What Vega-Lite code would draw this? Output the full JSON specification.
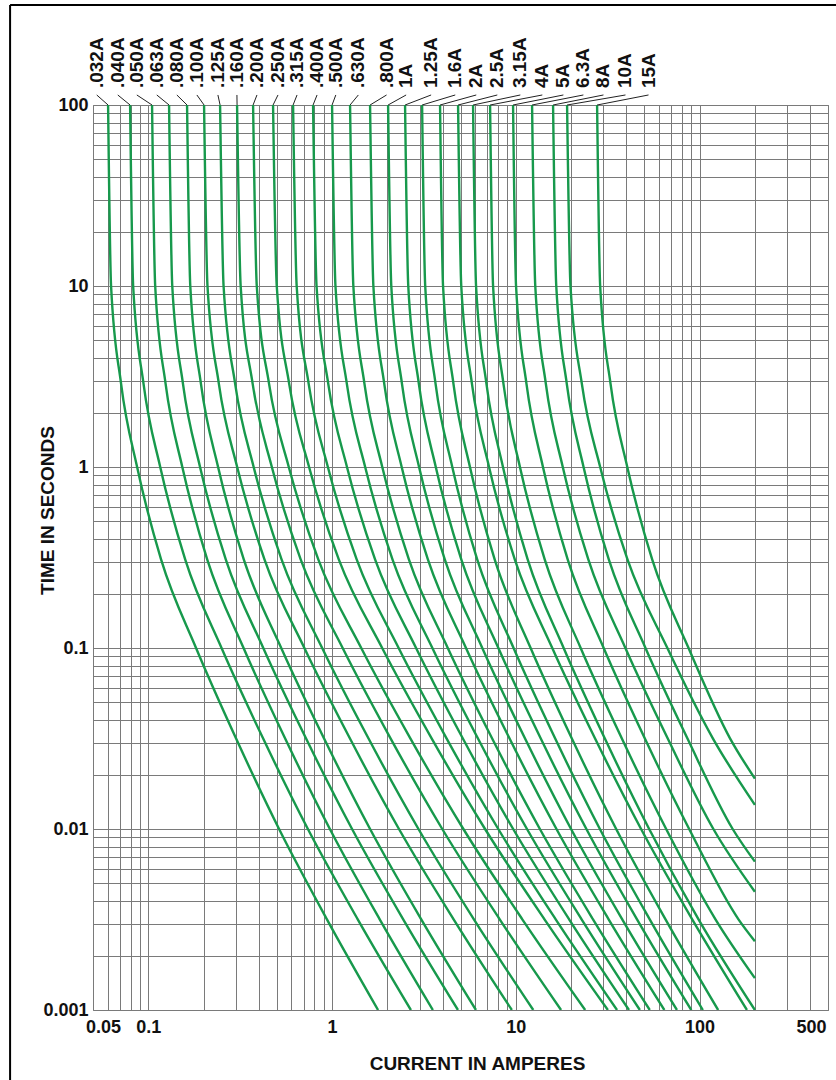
{
  "$schema": "https://vega.github.io/schema/vega-lite/v6.json",
  "autosize": {"type": "none"},
  "width": 735,
  "height": 905,
  "padding": {"left": 93, "top": 105, "right": 8, "bottom": 70},
  "background": "white",
  "config": {"view": {"stroke": "#7a7a7a", "strokeWidth": 1}},
  "datasets": {
    "curves": [
      {"fuse": ".032A", "current": 0.0604, "time": 100}, {"fuse": ".032A", "current": 0.0627, "time": 10}, {"fuse": ".032A", "current": 0.0711, "time": 2.88}, {"fuse": ".032A", "current": 0.0869, "time": 1}, {"fuse": ".032A", "current": 0.1173, "time": 0.309}, {"fuse": ".032A", "current": 0.1819, "time": 0.1}, {"fuse": ".032A", "current": 0.3004, "time": 0.0316}, {"fuse": ".032A", "current": 0.5147, "time": 0.01}, {"fuse": ".032A", "current": 0.9393, "time": 0.00316}, {"fuse": ".032A", "current": 1.78, "time": 0.001},
      {"fuse": ".040A", "current": 0.0796, "time": 100}, {"fuse": ".040A", "current": 0.0827, "time": 10}, {"fuse": ".040A", "current": 0.0942, "time": 2.88}, {"fuse": ".040A", "current": 0.1161, "time": 1}, {"fuse": ".040A", "current": 0.1587, "time": 0.309}, {"fuse": ".040A", "current": 0.2504, "time": 0.1}, {"fuse": ".040A", "current": 0.4217, "time": 0.0316}, {"fuse": ".040A", "current": 0.7385, "time": 0.01}, {"fuse": ".040A", "current": 1.382, "time": 0.00316}, {"fuse": ".040A", "current": 2.685, "time": 0.001},
      {"fuse": ".050A", "current": 0.1048, "time": 100}, {"fuse": ".050A", "current": 0.109, "time": 10}, {"fuse": ".050A", "current": 0.1242, "time": 2.88}, {"fuse": ".050A", "current": 0.1531, "time": 1}, {"fuse": ".050A", "current": 0.2091, "time": 0.309}, {"fuse": ".050A", "current": 0.3299, "time": 0.1}, {"fuse": ".050A", "current": 0.5556, "time": 0.0316}, {"fuse": ".050A", "current": 0.9728, "time": 0.01}, {"fuse": ".050A", "current": 1.82, "time": 0.00316}, {"fuse": ".050A", "current": 3.537, "time": 0.001},
      {"fuse": ".063A", "current": 0.1297, "time": 100}, {"fuse": ".063A", "current": 0.135, "time": 10}, {"fuse": ".063A", "current": 0.1544, "time": 2.88}, {"fuse": ".063A", "current": 0.1912, "time": 1}, {"fuse": ".063A", "current": 0.2639, "time": 0.309}, {"fuse": ".063A", "current": 0.4223, "time": 0.1}, {"fuse": ".063A", "current": 0.722, "time": 0.0316}, {"fuse": ".063A", "current": 1.2847, "time": 0.01}, {"fuse": ".063A", "current": 2.443, "time": 0.00316}, {"fuse": ".063A", "current": 4.844, "time": 0.001},
      {"fuse": ".080A", "current": 0.1625, "time": 100}, {"fuse": ".080A", "current": 0.1692, "time": 10}, {"fuse": ".080A", "current": 0.1934, "time": 2.88}, {"fuse": ".080A", "current": 0.2397, "time": 1}, {"fuse": ".080A", "current": 0.3307, "time": 0.309}, {"fuse": ".080A", "current": 0.5289, "time": 0.1}, {"fuse": ".080A", "current": 0.9046, "time": 0.0316}, {"fuse": ".080A", "current": 1.61, "time": 0.01}, {"fuse": ".080A", "current": 3.062, "time": 0.00316}, {"fuse": ".080A", "current": 6.068, "time": 0.001},
      {"fuse": ".100A", "current": 0.2011, "time": 100}, {"fuse": ".100A", "current": 0.2099, "time": 10}, {"fuse": ".100A", "current": 0.2421, "time": 2.88}, {"fuse": ".100A", "current": 0.3045, "time": 1}, {"fuse": ".100A", "current": 0.4286, "time": 0.309}, {"fuse": ".100A", "current": 0.7068, "time": 0.1}, {"fuse": ".100A", "current": 1.2515, "time": 0.0316}, {"fuse": ".100A", "current": 2.3123, "time": 0.01}, {"fuse": ".100A", "current": 4.596, "time": 0.00316}, {"fuse": ".100A", "current": 9.517, "time": 0.001},
      {"fuse": ".125A", "current": 0.2458, "time": 100}, {"fuse": ".125A", "current": 0.2568, "time": 10}, {"fuse": ".125A", "current": 0.2969, "time": 2.88}, {"fuse": ".125A", "current": 0.3744, "time": 1}, {"fuse": ".125A", "current": 0.531, "time": 0.309}, {"fuse": ".125A", "current": 0.8834, "time": 0.1}, {"fuse": ".125A", "current": 1.5796, "time": 0.0316}, {"fuse": ".125A", "current": 2.9526, "time": 0.01}, {"fuse": ".125A", "current": 5.926, "time": 0.00316}, {"fuse": ".125A", "current": 12.445, "time": 0.001},
      {"fuse": ".160A", "current": 0.3041, "time": 100}, {"fuse": ".160A", "current": 0.3181, "time": 10}, {"fuse": ".160A", "current": 0.3698, "time": 2.88}, {"fuse": ".160A", "current": 0.4702, "time": 1}, {"fuse": ".160A", "current": 0.6747, "time": 0.309}, {"fuse": ".160A", "current": 1.142, "time": 0.1}, {"fuse": ".160A", "current": 2.0841, "time": 0.0316}, {"fuse": ".160A", "current": 3.9783, "time": 0.01}, {"fuse": ".160A", "current": 8.188, "time": 0.00316}, {"fuse": ".160A", "current": 17.63, "time": 0.001},
      {"fuse": ".200A", "current": 0.3717, "time": 100}, {"fuse": ".200A", "current": 0.3893, "time": 10}, {"fuse": ".200A", "current": 0.4541, "time": 2.88}, {"fuse": ".200A", "current": 0.5814, "time": 1}, {"fuse": ".200A", "current": 0.8412, "time": 0.309}, {"fuse": ".200A", "current": 1.4415, "time": 0.1}, {"fuse": ".200A", "current": 2.6711, "time": 0.0316}, {"fuse": ".200A", "current": 5.183, "time": 0.01}, {"fuse": ".200A", "current": 10.87, "time": 0.00316}, {"fuse": ".200A", "current": 23.85, "time": 0.001},
      {"fuse": ".250A", "current": 0.4774, "time": 100}, {"fuse": ".250A", "current": 0.5, "time": 10}, {"fuse": ".250A", "current": 0.5843, "time": 2.88}, {"fuse": ".250A", "current": 0.7496, "time": 1}, {"fuse": ".250A", "current": 1.0876, "time": 0.309}, {"fuse": ".250A", "current": 1.8737, "time": 0.1}, {"fuse": ".250A", "current": 3.4878, "time": 0.0316}, {"fuse": ".250A", "current": 6.801, "time": 0.01}, {"fuse": ".250A", "current": 14.355, "time": 0.00316}, {"fuse": ".250A", "current": 31.7, "time": 0.001},
      {"fuse": ".315A", "current": 0.6136, "time": 100}, {"fuse": ".315A", "current": 0.6418, "time": 10}, {"fuse": ".315A", "current": 0.746, "time": 2.88}, {"fuse": ".315A", "current": 0.9487, "time": 1}, {"fuse": ".315A", "current": 1.3611, "time": 0.309}, {"fuse": ".315A", "current": 2.3033, "time": 0.1}, {"fuse": ".315A", "current": 4.2045, "time": 0.0316}, {"fuse": ".315A", "current": 8.027, "time": 0.01}, {"fuse": ".315A", "current": 16.52, "time": 0.00316}, {"fuse": ".315A", "current": 35.56, "time": 0.001},
      {"fuse": ".400A", "current": 0.7882, "time": 100}, {"fuse": ".400A", "current": 0.8233, "time": 10}, {"fuse": ".400A", "current": 0.9535, "time": 2.88}, {"fuse": ".400A", "current": 1.2053, "time": 1}, {"fuse": ".400A", "current": 1.714, "time": 0.309}, {"fuse": ".400A", "current": 2.8654, "time": 0.1}, {"fuse": ".400A", "current": 5.15, "time": 0.0316}, {"fuse": ".400A", "current": 9.674, "time": 0.01}, {"fuse": ".400A", "current": 19.54, "time": 0.00316}, {"fuse": ".400A", "current": 41.29, "time": 0.001},
      {"fuse": ".500A", "current": 1.0, "time": 100}, {"fuse": ".500A", "current": 1.0435, "time": 10}, {"fuse": ".500A", "current": 1.2036, "time": 2.88}, {"fuse": ".500A", "current": 1.514, "time": 1}, {"fuse": ".500A", "current": 2.1316, "time": 0.309}, {"fuse": ".500A", "current": 3.5143, "time": 0.1}, {"fuse": ".500A", "current": 6.223, "time": 0.0316}, {"fuse": ".500A", "current": 11.5, "time": 0.01}, {"fuse": ".500A", "current": 22.85, "time": 0.00316}, {"fuse": ".500A", "current": 47.33, "time": 0.001},
      {"fuse": ".630A", "current": 1.2531, "time": 100}, {"fuse": ".630A", "current": 1.3057, "time": 10}, {"fuse": ".630A", "current": 1.5008, "time": 2.88}, {"fuse": ".630A", "current": 1.8758, "time": 1}, {"fuse": ".630A", "current": 2.6182, "time": 0.309}, {"fuse": ".630A", "current": 4.2631, "time": 0.1}, {"fuse": ".630A", "current": 7.434, "time": 0.0316}, {"fuse": ".630A", "current": 13.52, "time": 0.01}, {"fuse": ".630A", "current": 26.36, "time": 0.00316}, {"fuse": ".630A", "current": 53.58, "time": 0.001},
      {"fuse": ".800A", "current": 1.61, "time": 100}, {"fuse": ".800A", "current": 1.6782, "time": 10}, {"fuse": ".800A", "current": 1.9235, "time": 2.88}, {"fuse": ".800A", "current": 2.3925, "time": 1}, {"fuse": ".800A", "current": 3.3219, "time": 0.309}, {"fuse": ".800A", "current": 5.355, "time": 0.1}, {"fuse": ".800A", "current": 9.247, "time": 0.0316}, {"fuse": ".800A", "current": 16.64, "time": 0.01}, {"fuse": ".800A", "current": 32.06, "time": 0.00316}, {"fuse": ".800A", "current": 64.33, "time": 0.001},
      {"fuse": "1A", "current": 2.018, "time": 100}, {"fuse": "1A", "current": 2.1005, "time": 10}, {"fuse": "1A", "current": 2.4013, "time": 2.88}, {"fuse": "1A", "current": 2.975, "time": 1}, {"fuse": "1A", "current": 4.105, "time": 0.309}, {"fuse": "1A", "current": 6.568, "time": 0.1}, {"fuse": "1A", "current": 11.227, "time": 0.0316}, {"fuse": "1A", "current": 19.98, "time": 0.01}, {"fuse": "1A", "current": 38.01, "time": 0.00316}, {"fuse": "1A", "current": 75.34, "time": 0.001},
      {"fuse": "1.25A", "current": 2.4962, "time": 100}, {"fuse": "1.25A", "current": 2.5983, "time": 10}, {"fuse": "1.25A", "current": 2.9675, "time": 2.88}, {"fuse": "1.25A", "current": 3.6677, "time": 1}, {"fuse": "1.25A", "current": 5.048, "time": 0.309}, {"fuse": "1.25A", "current": 8.036, "time": 0.1}, {"fuse": "1.25A", "current": 13.67, "time": 0.0316}, {"fuse": "1.25A", "current": 24.21, "time": 0.01}, {"fuse": "1.25A", "current": 45.75, "time": 0.00316}, {"fuse": "1.25A", "current": 90.11, "time": 0.001},
      {"fuse": "1.6A", "current": 3.0903, "time": 100}, {"fuse": "1.6A", "current": 3.2128, "time": 10}, {"fuse": "1.6A", "current": 3.6585, "time": 2.88}, {"fuse": "1.6A", "current": 4.5102, "time": 1}, {"fuse": "1.6A", "current": 6.162, "time": 0.309}, {"fuse": "1.6A", "current": 9.723, "time": 0.1}, {"fuse": "1.6A", "current": 16.38, "time": 0.0316}, {"fuse": "1.6A", "current": 28.67, "time": 0.01}, {"fuse": "1.6A", "current": 53.64, "time": 0.00316}, {"fuse": "1.6A", "current": 104.2, "time": 0.001},
      {"fuse": "2A", "current": 3.87, "time": 100}, {"fuse": "2A", "current": 4.018, "time": 10}, {"fuse": "2A", "current": 4.578, "time": 2.88}, {"fuse": "2A", "current": 5.629, "time": 1}, {"fuse": "2A", "current": 7.672, "time": 0.309}, {"fuse": "2A", "current": 12.04, "time": 0.1}, {"fuse": "2A", "current": 20.18, "time": 0.0316}, {"fuse": "2A", "current": 35.17, "time": 0.01}, {"fuse": "2A", "current": 65.39, "time": 0.00316}, {"fuse": "2A", "current": 126.2, "time": 0.001},
      {"fuse": "2.5A", "current": 4.85, "time": 100}, {"fuse": "2.5A", "current": 5.048, "time": 10}, {"fuse": "2.5A", "current": 5.772, "time": 2.88}, {"fuse": "2.5A", "current": 7.15, "time": 1}, {"fuse": "2.5A", "current": 9.87, "time": 0.309}, {"fuse": "2.5A", "current": 15.79, "time": 0.1}, {"fuse": "2.5A", "current": 27.0, "time": 0.0316}, {"fuse": "2.5A", "current": 48.05, "time": 0.01}, {"fuse": "2.5A", "current": 91.36, "time": 0.00316}, {"fuse": "2.5A", "current": 181.1, "time": 0.001},
      {"fuse": "3.15A", "current": 5.852, "time": 100}, {"fuse": "3.15A", "current": 6.077, "time": 10}, {"fuse": "3.15A", "current": 6.922, "time": 2.88}, {"fuse": "3.15A", "current": 8.513, "time": 1}, {"fuse": "3.15A", "current": 11.6, "time": 0.309}, {"fuse": "3.15A", "current": 18.21, "time": 0.1}, {"fuse": "3.15A", "current": 30.52, "time": 0.0316}, {"fuse": "3.15A", "current": 53.17, "time": 0.01}, {"fuse": "3.15A", "current": 98.88, "time": 0.00316}, {"fuse": "3.15A", "current": 200, "time": 0.001},
      {"fuse": "4A", "current": 7.244, "time": 100}, {"fuse": "4A", "current": 7.521, "time": 10}, {"fuse": "4A", "current": 8.567, "time": 2.88}, {"fuse": "4A", "current": 10.53, "time": 1}, {"fuse": "4A", "current": 14.36, "time": 0.309}, {"fuse": "4A", "current": 22.54, "time": 0.1}, {"fuse": "4A", "current": 37.77, "time": 0.0316}, {"fuse": "4A", "current": 65.79, "time": 0.01}, {"fuse": "4A", "current": 122.3, "time": 0.00316}, {"fuse": "4A", "current": 200, "time": 0.0015},
      {"fuse": "5A", "current": 9.661, "time": 100}, {"fuse": "5A", "current": 10.03, "time": 10}, {"fuse": "5A", "current": 11.43, "time": 2.88}, {"fuse": "5A", "current": 14.05, "time": 1}, {"fuse": "5A", "current": 19.15, "time": 0.309}, {"fuse": "5A", "current": 30.07, "time": 0.1}, {"fuse": "5A", "current": 50.39, "time": 0.0316}, {"fuse": "5A", "current": 87.78, "time": 0.01}, {"fuse": "5A", "current": 163.2, "time": 0.00316}, {"fuse": "5A", "current": 200, "time": 0.0024},
      {"fuse": "6.3A", "current": 12.26, "time": 100}, {"fuse": "6.3A", "current": 12.76, "time": 10}, {"fuse": "6.3A", "current": 14.57, "time": 2.88}, {"fuse": "6.3A", "current": 18.01, "time": 1}, {"fuse": "6.3A", "current": 24.8, "time": 0.309}, {"fuse": "6.3A", "current": 39.47, "time": 0.1}, {"fuse": "6.3A", "current": 67.12, "time": 0.0316}, {"fuse": "6.3A", "current": 118.9, "time": 0.01}, {"fuse": "6.3A", "current": 200, "time": 0.0045},
      {"fuse": "8A", "current": 15.95, "time": 100}, {"fuse": "8A", "current": 16.6, "time": 10}, {"fuse": "8A", "current": 18.94, "time": 2.88}, {"fuse": "8A", "current": 23.37, "time": 1}, {"fuse": "8A", "current": 32.06, "time": 0.309}, {"fuse": "8A", "current": 50.77, "time": 0.1}, {"fuse": "8A", "current": 85.94, "time": 0.0316}, {"fuse": "8A", "current": 151.4, "time": 0.01}, {"fuse": "8A", "current": 200, "time": 0.0066},
      {"fuse": "10A", "current": 19.01, "time": 100}, {"fuse": "10A", "current": 19.84, "time": 10}, {"fuse": "10A", "current": 22.88, "time": 2.88}, {"fuse": "10A", "current": 28.78, "time": 1}, {"fuse": "10A", "current": 40.52, "time": 0.309}, {"fuse": "10A", "current": 66.8, "time": 0.1}, {"fuse": "10A", "current": 118.3, "time": 0.0316}, {"fuse": "10A", "current": 200, "time": 0.0136},
      {"fuse": "15A", "current": 27.69, "time": 100}, {"fuse": "15A", "current": 28.78, "time": 10}, {"fuse": "15A", "current": 32.78, "time": 2.88}, {"fuse": "15A", "current": 40.42, "time": 1}, {"fuse": "15A", "current": 55.21, "time": 0.309}, {"fuse": "15A", "current": 87.11, "time": 0.1}, {"fuse": "15A", "current": 146.7, "time": 0.0316}, {"fuse": "15A", "current": 200, "time": 0.019}
    ],
    "labels": [
      {"fuse": ".032A", "labelAt": 0.0524, "curveTop": 0.0604},
      {"fuse": ".040A", "labelAt": 0.0682, "curveTop": 0.0796},
      {"fuse": ".050A", "labelAt": 0.0866, "curveTop": 0.1048},
      {"fuse": ".063A", "labelAt": 0.1112, "curveTop": 0.1297},
      {"fuse": ".080A", "labelAt": 0.143, "curveTop": 0.1625},
      {"fuse": ".100A", "labelAt": 0.1838, "curveTop": 0.2011},
      {"fuse": ".125A", "labelAt": 0.2392, "curveTop": 0.2458},
      {"fuse": ".160A", "labelAt": 0.3036, "curveTop": 0.3041},
      {"fuse": ".200A", "labelAt": 0.3902, "curveTop": 0.3717},
      {"fuse": ".250A", "labelAt": 0.5078, "curveTop": 0.4774},
      {"fuse": ".315A", "labelAt": 0.6447, "curveTop": 0.6136},
      {"fuse": ".400A", "labelAt": 0.8285, "curveTop": 0.7882},
      {"fuse": ".500A", "labelAt": 1.048, "curveTop": 1.0},
      {"fuse": ".630A", "labelAt": 1.39, "curveTop": 1.2531},
      {"fuse": ".800A", "labelAt": 1.98, "curveTop": 1.61},
      {"fuse": "1A", "labelAt": 2.53, "curveTop": 2.018},
      {"fuse": "1.25A", "labelAt": 3.46, "curveTop": 2.4962},
      {"fuse": "1.6A", "labelAt": 4.681, "curveTop": 3.0903},
      {"fuse": "2A", "labelAt": 6.091, "curveTop": 3.87},
      {"fuse": "2.5A", "labelAt": 7.93, "curveTop": 4.85},
      {"fuse": "3.15A", "labelAt": 10.58, "curveTop": 5.852},
      {"fuse": "4A", "labelAt": 13.94, "curveTop": 7.244},
      {"fuse": "5A", "labelAt": 18.15, "curveTop": 9.661},
      {"fuse": "6.3A", "labelAt": 23.32, "curveTop": 12.26},
      {"fuse": "8A", "labelAt": 29.99, "curveTop": 15.95},
      {"fuse": "10A", "labelAt": 39.52, "curveTop": 19.01},
      {"fuse": "15A", "labelAt": 52.75, "curveTop": 27.69}
    ]
  },
  "layer": [
    {
      "data": {"name": "curves"},
      "mark": {"type": "line", "interpolate": "monotone", "color": "#17994c", "strokeWidth": 2.4, "clip": true},
      "encoding": {
        "x": {
          "field": "current", "type": "quantitative",
          "scale": {"type": "log", "domain": [0.05, 500], "nice": false},
          "axis": {
            "values": [0.05, 0.06, 0.07, 0.08, 0.09, 0.1, 0.2, 0.3, 0.4, 0.5, 0.6, 0.7, 0.8, 0.9, 1, 2, 3, 4, 5, 6, 7, 8, 9, 10, 20, 30, 40, 50, 60, 70, 80, 90, 100, 200, 300, 400, 500],
            "format": "~g",
            "labelExpr": "(datum.value == 0.05 || datum.value == 0.1 || datum.value == 1 || datum.value == 10 || datum.value == 100 || datum.value == 500) ? datum.label : ''",
            "labelOverlap": false, "labelFlush": false, "labelBound": false,
            "labelOffset": {"condition": [{"test": "datum.value == 0.05", "value": 10}, {"test": "datum.value == 500", "value": -17}], "value": 0},
            "grid": true, "gridColor": "#7a7a7a", "gridWidth": 1,
            "ticks": false, "domain": false,
            "labelFont": "Liberation Sans",
            "labelFontSize": 18, "labelFontWeight": "bold", "labelColor": "#111", "labelPadding": 8, "labelBaseline": "top",
            "title": "CURRENT IN AMPERES",
            "titleFont": "Liberation Sans",
            "titleFontSize": 19, "titleFontWeight": "bold", "titleColor": "#111",
            "titleX": 384, "titleY": 53, "titleAlign": "center", "titleBaseline": "middle"
          }
        },
        "y": {
          "field": "time", "type": "quantitative",
          "scale": {"type": "log", "domain": [0.001, 100], "nice": false},
          "axis": {
            "values": [0.001, 0.002, 0.003, 0.004, 0.005, 0.006, 0.007, 0.008, 0.009, 0.01, 0.02, 0.03, 0.04, 0.05, 0.06, 0.07, 0.08, 0.09, 0.1, 0.2, 0.3, 0.4, 0.5, 0.6, 0.7, 0.8, 0.9, 1, 2, 3, 4, 5, 6, 7, 8, 9, 10, 20, 30, 40, 50, 60, 70, 80, 90, 100],
            "format": "~g",
            "labelExpr": "(datum.value == 0.001 || datum.value == 0.01 || datum.value == 0.1 || datum.value == 1 || datum.value == 10 || datum.value == 100) ? datum.label : ''",
            "labelOverlap": false, "labelFlush": false, "labelBound": false,
            "grid": true, "gridColor": "#7a7a7a", "gridWidth": 1,
            "ticks": false, "domain": false,
            "labelFont": "Liberation Sans",
            "labelFontSize": 18, "labelFontWeight": "bold", "labelColor": "#111", "labelPadding": 5,
            "title": "TIME IN SECONDS",
            "titleFont": "Liberation Sans",
            "titleFontSize": 19, "titleFontWeight": "bold", "titleColor": "#111",
            "titleX": -46, "titleY": 405, "titleAngle": 270, "titleAlign": "center", "titleBaseline": "middle"
          }
        },
        "detail": {"field": "fuse"},
        "order": {"field": "time", "sort": "descending"}
      }
    },
    {
      "data": {"name": "labels"},
      "mark": {"type": "rule", "color": "#222", "strokeWidth": 1},
      "encoding": {
        "x": {"field": "labelAt", "type": "quantitative", "scale": {"type": "log", "domain": [0.05, 500], "nice": false}},
        "x2": {"field": "curveTop"},
        "y": {"datum": 113.6, "type": "quantitative", "scale": {"type": "log", "domain": [0.001, 100], "nice": false}},
        "y2": {"datum": 100}
      }
    },
    {
      "data": {"name": "labels"},
      "mark": {"type": "text", "angle": 270, "align": "left", "baseline": "middle", "font": "Liberation Sans", "fontSize": 19, "fontWeight": "bold", "color": "#111"},
      "encoding": {
        "x": {"field": "labelAt", "type": "quantitative", "scale": {"type": "log", "domain": [0.05, 500], "nice": false}},
        "y": {"datum": 124, "type": "quantitative", "scale": {"type": "log", "domain": [0.001, 100], "nice": false}},
        "text": {"field": "fuse"}
      }
    },
    {
      "data": {"values": [{}]},
      "mark": {"type": "rule", "color": "#000", "strokeWidth": 2},
      "encoding": {
        "x": {"datum": 0.01769, "type": "quantitative", "scale": {"type": "log", "domain": [0.05, 500], "nice": false}},
        "y": {"datum": 357, "type": "quantitative", "scale": {"type": "log", "domain": [0.001, 100], "nice": false}},
        "y2": {"datum": 0.00001}
      }
    },
    {
      "data": {"values": [{}]},
      "mark": {"type": "rule", "color": "#000", "strokeWidth": 2},
      "encoding": {
        "x": {"datum": 0.01769, "type": "quantitative", "scale": {"type": "log", "domain": [0.05, 500], "nice": false}},
        "x2": {"datum": 1000},
        "y": {"datum": 357, "type": "quantitative", "scale": {"type": "log", "domain": [0.001, 100], "nice": false}}
      }
    }
  ]
}
